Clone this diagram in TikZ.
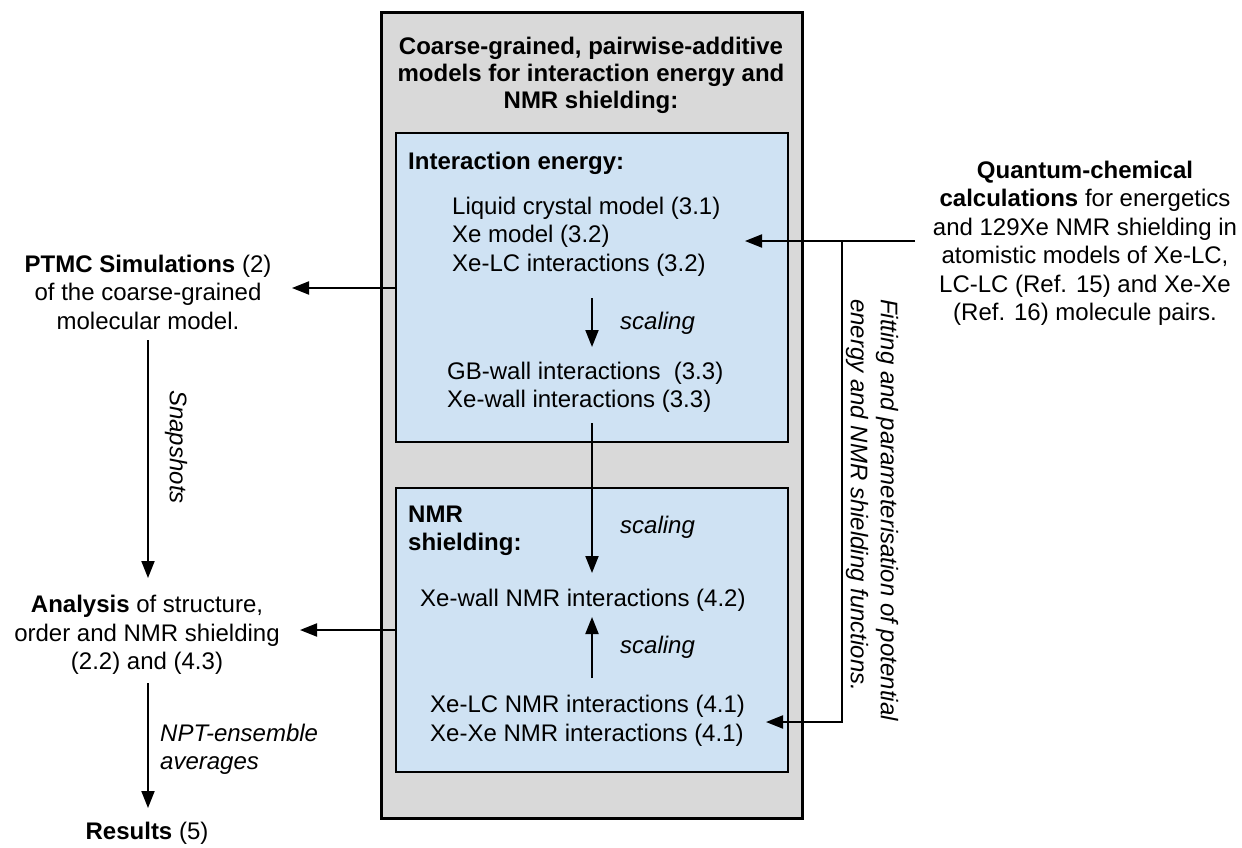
\documentclass[tikz,border=0pt]{standalone}
\usepackage{fontspec}
\setmainfont{Liberation Sans}
\usetikzlibrary{arrows.meta}
\definecolor{greyfill}{RGB}{217,217,217}
\definecolor{bluefill}{RGB}{207,226,243}
\begin{document}
\begin{tikzpicture}[x=1pt,y=-1pt,
  txt/.style={inner sep=0pt, font=\fontsize{24}{28.5}\selectfont},
  arr/.style={line width=2pt, -{Triangle[length=17pt,width=13pt]}},
  ln/.style={line width=2pt},
  greybox/.style={draw=black, line width=3pt, fill=greyfill, minimum width=421pt, minimum height=805pt, inner sep=0pt},
  bluebox/.style={draw=black, line width=2pt, fill=bluefill, minimum width=392pt, inner sep=0pt},
]
\useasboundingbox (0,0) rectangle (1242,848);
\fill[white] (0,0) rectangle (1242,848);

% containers
\node[greybox] (outer) at (591.5,415.5) {};
\node[bluebox, minimum height=309pt] (ebox) at (592,287.5) {};
\node[bluebox, minimum height=284pt] (nbox) at (592,630) {};

% title
\node[txt, align=center, font=\fontsize{24}{27}\selectfont\bfseries] (title) at (591,75)
  {Coarse-grained, pairwise-additive\\models for interaction energy and\\NMR shielding:};

% interaction energy box
\node[txt, anchor=west, font=\fontsize{24}{28.5}\selectfont\bfseries] (ie) at (408,163) {Interaction energy:};
\node[txt, anchor=west, align=left] (lc) at (452,236.5)
  {Liquid crystal model (3.1)\\Xe model (3.2)\\Xe-LC interactions (3.2)};
\coordinate (s1a) at (592,298);
\coordinate (s1b) at (592,347);
\draw[arr] (s1a) -- (s1b);
\node[txt, anchor=west, font=\fontsize{24}{28.5}\selectfont\itshape] (sc1) at (620,323) {scaling};
\node[txt, anchor=west, align=left] (gb) at (447,387.5)
  {GB-wall interactions\ \ (3.3)\\Xe-wall interactions (3.3)};

% NMR box
\node[txt, anchor=west, align=left, font=\fontsize{24}{28}\selectfont\bfseries] (nmr) at (408,531) {NMR\\shielding:};
\coordinate (s2a) at (592,423);
\coordinate (s2b) at (592,573);
\draw[arr] (s2a) -- (s2b);
\node[txt, anchor=west, font=\fontsize{24}{28.5}\selectfont\itshape] (sc2) at (620,527) {scaling};
\node[txt, anchor=west] (xwn) at (420,600) {Xe-wall NMR interactions (4.2)};
\coordinate (s3a) at (592,678);
\coordinate (s3b) at (592,617);
\draw[arr] (s3a) -- (s3b);
\node[txt, anchor=west, font=\fontsize{24}{28.5}\selectfont\itshape] (sc3) at (620,647) {scaling};
\node[txt, anchor=west, align=left] (xln) at (430,721)
  {Xe-LC NMR interactions (4.1)\\Xe-Xe NMR interactions (4.1)};

% quantum chemical
\node[txt, align=center] (qc) at (1085,243.5)
  {\textbf{Quantum-chemical}\\\textbf{calculations} for energetics\\and 129Xe NMR shielding in\\atomistic models of Xe-LC,\\LC-LC (Ref. 15) and Xe-Xe\\(Ref. 16) molecule pairs.};
\coordinate (qa) at (915,241);
\coordinate (qtip) at (745,241);
\coordinate (qv) at (842,241);
\coordinate (qb) at (842,722);
\coordinate (qtip2) at (766,722);
\draw[arr] (qa) -- (qtip);
\draw[arr] (qv) -- (qb) -- (qtip2);
\node[txt, rotate=-90, anchor=west, align=left, font=\fontsize{24}{30}\selectfont\itshape] (fit) at (872,299)
  {Fitting and parameterisation of potential\\energy and NMR shielding functions.};

% left column
\node[txt, align=center] (ptmc) at (148,292)
  {\textbf{PTMC Simulations} (2)\\of the coarse-grained\\molecular model.};
\coordinate (pa) at (395,288);
\coordinate (ptip) at (292,288);
\draw[arr] (pa) -- (ptip);
\coordinate (sa) at (148,340);
\coordinate (sb) at (148,578);
\draw[arr] (sa) -- (sb);
\node[txt, rotate=-90, font=\fontsize{24}{28.5}\selectfont\itshape] (snap) at (176,447) {Snapshots};
\node[txt, align=center] (ana) at (147,635)
  {\textbf{Analysis} of structure,\\order and NMR shielding\\(2.2) and (4.3)};
\coordinate (aa) at (395,630);
\coordinate (atip) at (300,630);
\draw[arr] (aa) -- (atip);
\coordinate (na) at (148,683);
\coordinate (nb) at (148,808);
\draw[arr] (na) -- (nb);
\node[txt, anchor=west, align=left, font=\fontsize{24}{28}\selectfont\itshape] (npt) at (160,749)
  {NPT-ensemble\\averages};
\node[txt] (res) at (147,833) {\textbf{Results} (5)};
\end{tikzpicture}
\end{document}
